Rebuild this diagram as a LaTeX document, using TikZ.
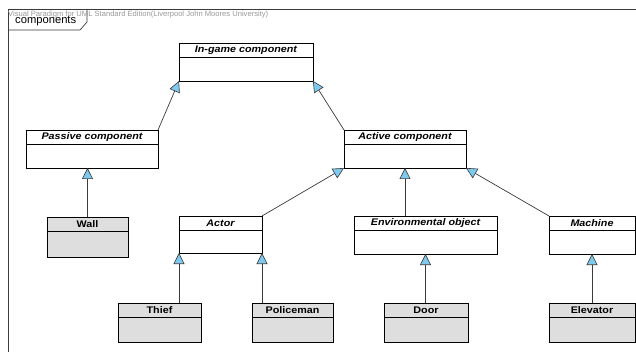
\documentclass[tikz,border=0pt]{standalone}
\usepackage{fontspec}
\newfontfamily\vp[FakeStretch=1.12]{Liberation Sans}
\newfontfamily\vpplain{Liberation Sans}
\usetikzlibrary{arrows.meta}
\definecolor{arrowblue}{HTML}{7FC8EE}
\definecolor{concfill}{HTML}{DEDEDE}
\definecolor{linegray}{HTML}{3A3A3A}
\tikzset{
  clsbox/.style={draw=black, line width=0.8pt, anchor=north west, inner sep=0pt, outer sep=0pt, rectangle},
  absbox/.style={clsbox, fill=white},
  concbox/.style={clsbox, fill=concfill},
  hdr/.style={draw=black, line width=0.8pt},
  absname/.style={font=\vp\fontsize{9.6}{11}\selectfont\bfseries\itshape},
  concname/.style={font=\vp\fontsize{9.6}{11}\selectfont\bfseries},
  gen/.style={draw=linegray, line width=0.7pt, -{Triangle[length=11pt, width=11pt, fill=arrowblue, line width=0.6pt]}},
  framestyle/.style={draw=linegray, line width=0.7pt}
}
\newcommand\umlcls[8]{% name, x, y, w, h, box style, name style, text
  \node[#6, minimum width=#4pt, minimum height=#5pt] (#1) at (#2,#3) {};
  \draw[hdr] ([yshift=-14pt]#1.north west) -- ([yshift=-14pt]#1.north east);
  \node[#7, inner sep=0pt] (#1-label) at ([yshift=-7pt]#1.north) {#8};
}
\begin{document}
\begin{tikzpicture}[x=1pt, y=-1pt]
  \useasboundingbox (0,0) rectangle (636,352);
  \fill[white] (0,0) rectangle (636,352);
  % frame
  \coordinate (fbl) at (8,352);
  \coordinate (ftl) at (8,9);
  \coordinate (ftr) at (636,9);
  \draw[framestyle] (fbl) -- (ftl) -- (ftr);
  \coordinate (tab1) at (8,30);
  \coordinate (tab2) at (80,30);
  \coordinate (tab3) at (87,22);
  \coordinate (tab4) at (87,9);
  \draw[framestyle] (tab1) -- (tab2) -- (tab3) -- (tab4);
  \node[anchor=west, inner sep=0pt, text=black!40, font=\vpplain\fontsize{7.6}{9}\selectfont] (vp) at (8,14.5) {Visual Paradigm for UML Standard Edition(Liverpool John Moores University)};
  \node[anchor=west, inner sep=0pt, font=\vpplain\fontsize{11.2}{13}\selectfont] (frametitle) at (15,21) {components};
  % classes
  \umlcls{ingame}{179}{43}{134}{38}{absbox}{absname}{In-game component}
  \umlcls{passive}{26}{130}{132}{38}{absbox}{absname}{Passive component}
  \umlcls{active}{344}{130}{122}{38}{absbox}{absname}{Active component}
  \umlcls{wall}{47}{217}{81}{40}{concbox}{concname}{Wall}
  \umlcls{actor}{179}{216}{83}{37}{absbox}{absname}{Actor}
  \umlcls{env}{354}{216}{143}{38}{absbox}{absname}{Environmental object}
  \umlcls{machine}{549}{216}{86}{38}{absbox}{absname}{Machine}
  \umlcls{thief}{118}{303}{83}{39}{concbox}{concname}{Thief}
  \umlcls{police}{252}{303}{81}{39}{concbox}{concname}{Policeman}
  \umlcls{door}{384}{303}{84}{39}{concbox}{concname}{Door}
  \umlcls{elevator}{549}{303}{86}{39}{concbox}{concname}{Elevator}
  % generalizations
  \draw[gen] (passive.north east) -- (ingame.south west);
  \draw[gen] (active.north west) -- (ingame.south east);
  \draw[gen] (wall.north) -- (wall.north |- passive.south);
  \draw[gen] (actor.north east) -- (active.south west);
  \draw[gen] (env.north -| active.south) -- (active.south);
  \draw[gen] (machine.north west) -- (active.south east);
  \draw[gen] (thief.north -| actor.south west) -- (actor.south west);
  \draw[gen] (police.north -| actor.south east) -- (actor.south east);
  \draw[gen] (door.north -| env.south) -- (env.south);
  \draw[gen] (elevator.north) -- (machine.south);
\end{tikzpicture}
\end{document}
